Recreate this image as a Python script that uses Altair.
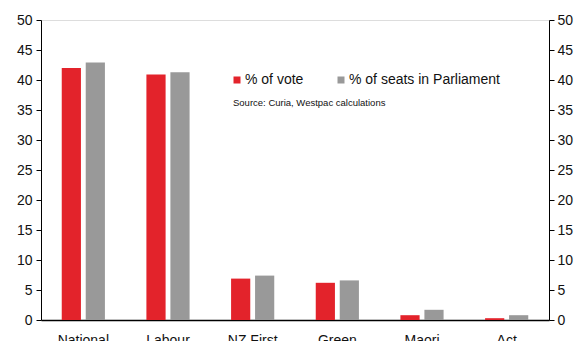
import altair as alt
import pandas as pd

parties = ["National", "Labour", "NZ First", "Green", "Maori", "Act"]
vote = [42.0, 40.9, 6.9, 6.2, 0.8, 0.3]
seats = [42.9, 41.3, 7.4, 6.6, 1.7, 0.8]
series = ["% of vote", "% of seats in Parliament"]
colors = ["#E3232B", "#999999"]
source = "Source: Curia, Westpac calculations"

rows = []
for p, v, s in zip(parties, vote, seats):
    rows.append({"party": p, "series": series[0], "value": v})
    rows.append({"party": p, "series": series[1], "value": s})
df = pd.DataFrame(rows)

FONT = "Liberation Sans"

x = alt.X("party:N", sort=parties, title=None,
          scale=alt.Scale(paddingInner=0.49, paddingOuter=0.245),
          axis=alt.Axis(labelAngle=0, ticks=False, domainColor="black",
                        domainWidth=1.5, labelFontSize=14, labelPadding=13,
                        labelColor="#111111", labelFont=FONT))
xoff = alt.XOffset("series:N", sort=series,
                   scale=alt.Scale(paddingInner=0.2, paddingOuter=0))

def yenc(orient, pad):
    return alt.Y("value:Q", title=None,
                 scale=alt.Scale(domain=[0, 50]),
                 axis=alt.Axis(orient=orient, values=list(range(0, 51, 5)),
                               grid=False, tickSize=5, tickColor="black",
                               domainColor="black", labelFontSize=14,
                               labelPadding=pad, labelColor="#111111",
                               labelFont=FONT))

bars = alt.Chart(df).mark_bar().encode(
    x=x, xOffset=xoff, y=yenc("left", 4),
    color=alt.Color("series:N", sort=series,
                    scale=alt.Scale(domain=series, range=colors),
                    legend=alt.Legend(title=None, orient="none", direction="horizontal",
                                      legendX=189, legendY=53, symbolType="square",
                                      symbolSize=49, symbolStrokeWidth=0,
                                      labelFontSize=14, labelFont=FONT,
                                      labelColor="#111111", labelOffset=1,
                                      columnPadding=30, padding=0)),
)

right = alt.Chart(df).mark_bar(opacity=0).encode(
    x=x, xOffset=xoff, y=yenc("right", 3),
)

src = alt.Chart(pd.DataFrame({"t": [source]})).mark_text(
    align="left", baseline="middle", fontSize=9.5, font=FONT, color="#111111"
).encode(x=alt.value(192), y=alt.value(83), text="t:N")

chart = alt.layer(bars, right, src).resolve_axis(y="independent").properties(
    width=508, height=300,
    autosize=alt.AutoSizeParams(type="none"),
    padding={"left": 41, "top": 20, "right": 25, "bottom": 21},
).configure_view(stroke=None).configure(background="white")

chart.save("out.html", embed_options={"renderer": "svg", "actions": False})
